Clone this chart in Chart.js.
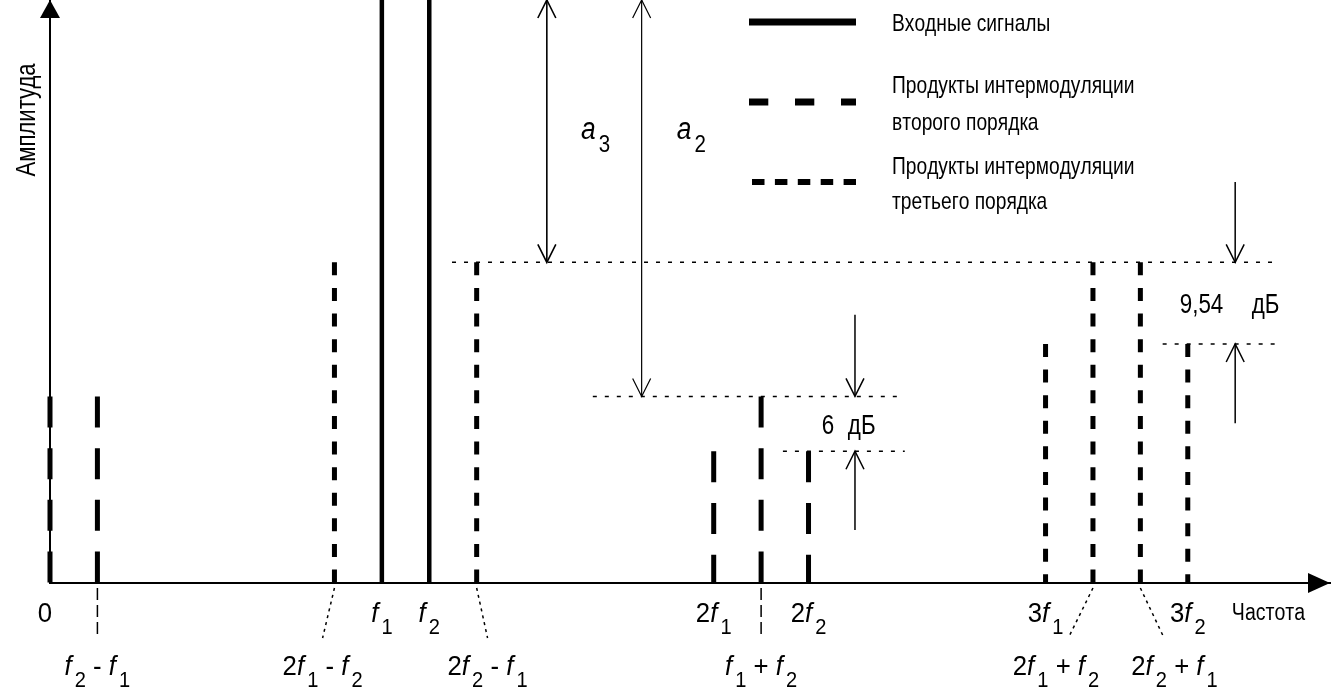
<!DOCTYPE html>
<html>
<head>
<meta charset="utf-8">
<script src="https://cdn.jsdelivr.net/npm/chart.js@4.4.0/dist/chart.umd.min.js"></script>
<style>
  html, body { margin: 0; padding: 0; background: #fff; overflow: hidden; }
  #wrap { width: 1335px; height: 688px; }
</style>
</head>
<body>
<div id="wrap"><canvas id="myChart"></canvas></div>
<script>
// frequency axis in steps of (f2 - f1): f1 = 7, f2 = 8
const signalFreqs = [7, 8];
const signalAmps = [110, 110];
const im2Freqs = [0, 1, 14, 15, 16];
const im2Amps = [32, 32, 22.6, 32, 22.6];
const im3Freqs = [6, 9, 21, 22, 23, 24];
const im3Amps = [55, 55, 41, 55, 55, 41];
const seriesNames = [
  "Входные сигналы",
  "Продукты интермодуляции|второго порядка",
  "Продукты интермодуляции|третьего порядка",
];

// tick labels just under the axis
const tickFreqs = [0, 7, 8, 14, 16, 21, 24];
const tickLabels = ["0", "f_1", "f_2", "2f_1", "2f_2", "3f_1", "3f_2"];
// second row, with leader lines
const lowFreqs = [1, 6, 9, 15, 22, 23];
const lowLabels = ["f_2 - f_1", "2f_1 - f_2", "2f_2 - f_1", "f_1 + f_2", "2f_1 + f_2", "2f_2 + f_1"];
const lowShift = [0, -0.25, 0.23, 0, -0.78, 0.72];
const leaderShift = [0, -0.25, 0.23, 0, -0.52, 0.5];

const NARROW = 0.8;
const FONT = '"Liberation Sans", Arial, sans-serif';

const lineData = (freqs, amps) => {
  const pts = [];
  freqs.forEach((f, i) => {
    pts.push({ x: f, y: amps[i] }, { x: f, y: 0 }, { x: f, y: null });
  });
  return pts;
};

function tokens(str) {
  const out = [];
  for (let i = 0; i < str.length; i++) {
    const c = str[i];
    if (c === "_") out.push({ t: str[++i], sub: true });
    else out.push({ t: c, it: c === "f" || c === "a" });
  }
  return out;
}

// text with italic f / a and subscripts, horizontally condensed
function richText(c, str, x, base, size, align, narrow) {
  const nw = narrow || NARROW;
  const toks = tokens(str);
  const subSize = size * 0.78;
  const fontOf = (k) => (k.it ? "italic " : "") + (k.sub ? subSize : size) + "px " + FONT;
  let w = 0;
  toks.forEach((k) => {
    c.font = fontOf(k);
    k.w = c.measureText(k.t).width;
    k.gap = k.it ? size * 0.12 : 0;
    w += k.w + k.gap;
  });
  const x0 = align === "center" ? x - (w * nw) / 2 : x;
  c.save();
  c.translate(x0, base);
  c.scale(nw, 1);
  c.textAlign = "left";
  c.textBaseline = "alphabetic";
  c.fillStyle = "#000";
  let cx = 0;
  toks.forEach((k) => {
    c.font = fontOf(k);
    c.fillText(k.t, cx, k.sub ? size * 0.42 : 0);
    cx += k.w + k.gap;
  });
  c.restore();
}

function head(c, x, y, up) {
  const d = up ? 18 : -18;
  c.beginPath();
  c.moveTo(x - 9, y + d);
  c.lineTo(x, y);
  c.lineTo(x + 9, y + d);
  c.stroke();
}

function vArrow(c, x, y1, y2, headTop, headBottom, lw) {
  c.save();
  c.strokeStyle = "#000";
  c.lineWidth = lw;
  c.setLineDash([]);
  c.beginPath();
  c.moveTo(x, y1);
  c.lineTo(x, y2);
  c.stroke();
  if (headTop) head(c, x, y1, true);
  if (headBottom) head(c, x, y2, false);
  c.restore();
}

function dottedH(c, x1, x2, y) {
  c.save();
  c.strokeStyle = "#000";
  c.lineWidth = 1.5;
  c.setLineDash([4, 8]);
  c.beginPath();
  c.moveTo(x1, y);
  c.lineTo(x2, y);
  c.stroke();
  c.restore();
}

const sketchPlugin = {
  id: "sketch",
  afterDraw(chart) {
    const c = chart.ctx;
    const ca = chart.chartArea;
    const X = (v) => chart.scales.x.getPixelForValue(v);
    const Y = (v) => chart.scales.y.getPixelForValue(v);
    c.save();
    c.fillStyle = "#000";

    // axis arrow heads
    c.beginPath();
    c.moveTo(ca.left, ca.top);
    c.lineTo(ca.left - 10, ca.top + 18);
    c.lineTo(ca.left + 10, ca.top + 18);
    c.closePath();
    c.fill();
    c.beginPath();
    c.moveTo(ca.right, ca.bottom);
    c.lineTo(ca.right - 22, ca.bottom - 10);
    c.lineTo(ca.right - 22, ca.bottom + 10);
    c.closePath();
    c.fill();

    // axis titles
    c.save();
    c.translate(35, 120);
    c.rotate(-Math.PI / 2);
    c.scale(0.82, 1);
    c.font = "27px " + FONT;
    c.textAlign = "center";
    c.fillText("Амплитуда", 0, 0);
    c.restore();
    richText(c, "Частота", X(24.93), ca.bottom + 37, 23, "left", 0.85);

    // tick labels
    tickFreqs.forEach((f, i) => {
      richText(c, tickLabels[i], X(f) - (f === 0 ? 5 : 0), ca.bottom + 39, 28, "center", 0.92);
    });
    lowFreqs.forEach((f, i) => {
      richText(c, lowLabels[i], X(f + lowShift[i]), ca.bottom + 92, 28, "center", 0.92);
      c.save();
      c.strokeStyle = "#000";
      c.lineWidth = 1.5;
      c.setLineDash(leaderShift[i] === 0 ? [12, 5] : [3, 4]);
      c.beginPath();
      c.moveTo(X(f), ca.bottom + 5);
      c.lineTo(X(f + leaderShift[i]), ca.bottom + 55);
      c.stroke();
      c.restore();
    });

    // reference levels
    const lvl3 = im3Amps[0], lvl2 = im2Amps[3], lvl2h = im2Amps[2], lvl3h = im3Amps[2];
    dottedH(c, X(8.48), X(25.87), Y(lvl3));
    dottedH(c, X(11.45), X(18.03), Y(lvl2));
    dottedH(c, X(15.46), X(18.03), Y(lvl2h));
    dottedH(c, X(23.47), X(25.98), Y(lvl3h));

    // a3, a2 distances
    vArrow(c, X(10.48), Y(100), Y(lvl3), true, true, 1.6);
    vArrow(c, X(12.48), Y(100), Y(lvl2), true, true, 1.2);
    richText(c, "a_3", X(11.2), Y(76.2), 31, "left", 0.85);
    richText(c, "a_2", X(13.22), Y(76.2), 31, "left", 0.85);

    // 6 dB
    vArrow(c, X(16.98), Y(46), Y(lvl2), false, true, 1.5);
    vArrow(c, X(16.98), Y(lvl2h), Y(9.1), true, false, 1.5);
    richText(c, "6", X(16.28), Y(25.6), 28, "left");
    richText(c, "дБ", X(16.83), Y(25.6), 28, "left");

    // 9,54 dB
    vArrow(c, X(25.0), Y(68.8), Y(lvl3), false, true, 1.5);
    vArrow(c, X(25.0), Y(lvl3h), Y(27.4), true, false, 1.5);
    richText(c, "9,54", X(23.83), Y(46.3), 28, "left");
    richText(c, "дБ", X(25.35), Y(46.3), 28, "left");

    // legend
    const legY = [22, 102, 182];
    const legBase = [[31], [93, 130], [174, 209]];
    const legDash = [[], [19.3, 26.7], [12.5, 10.4]];
    const legW = [7, 7, 6];
    chart.data.datasets.forEach((ds, i) => {
      c.save();
      c.strokeStyle = ds.borderColor;
      c.lineWidth = legW[i];
      c.setLineDash(legDash[i]);
      c.beginPath();
      c.moveTo(i === 2 ? 752 : 749, legY[i]);
      c.lineTo(856, legY[i]);
      c.stroke();
      c.restore();
      ds.label.split("|").forEach((t, j) => {
        richText(c, t, 892, legBase[i][j], 24, "left");
      });
    });
    c.restore();
  },
};

const ctx = document.getElementById("myChart");
new Chart(ctx, {
  type: "line",
  data: {
    datasets: [
      {
        label: seriesNames[0],
        data: lineData(signalFreqs, signalAmps),
        borderColor: "#000",
        borderWidth: 4.5,
        borderDash: [],
        clip: 10,
      },
      {
        label: seriesNames[1],
        data: lineData(im2Freqs, im2Amps),
        borderColor: "#000",
        borderWidth: 5,
        borderDash: [31, 20.7],
        clip: 10,
      },
      {
        label: seriesNames[2],
        data: lineData(im3Freqs, im3Amps),
        borderColor: "#000",
        borderWidth: 5,
        borderDash: [13, 12.6],
        clip: 10,
      },
    ],
  },
  options: {
    animation: false,
    responsive: true,
    maintainAspectRatio: false,
    devicePixelRatio: 1,
    layout: { padding: { left: 50, right: 5, top: 0, bottom: 105 } },
    elements: { point: { radius: 0 }, line: { tension: 0, borderCapStyle: "butt" } },
    spanGaps: false,
    plugins: { legend: { display: false }, tooltip: { enabled: false } },
    scales: {
      x: {
        type: "linear",
        min: 0,
        max: 27,
        grid: { display: false, drawTicks: false },
        ticks: { display: false },
        border: { display: true, color: "#000", width: 2 },
      },
      y: {
        type: "linear",
        min: 0,
        max: 100,
        grid: { display: false, drawTicks: false },
        ticks: { display: false },
        border: { display: true, color: "#000", width: 2 },
      },
    },
  },
  plugins: [sketchPlugin],
});
</script>
</body>
</html>
